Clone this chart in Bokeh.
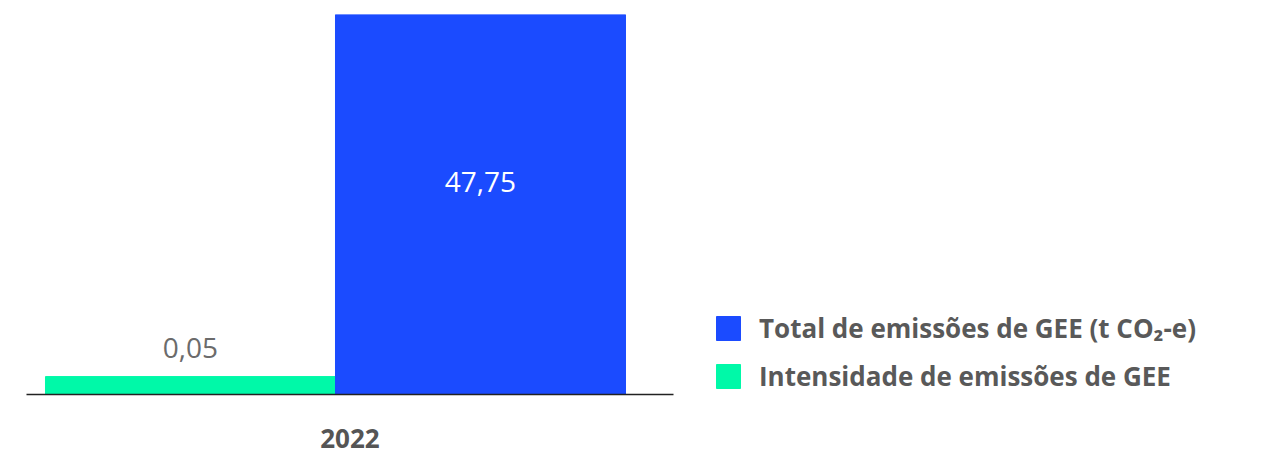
from bokeh.plotting import figure
from bokeh.models import Range1d, LinearAxis, FixedTicker, Legend, LegendItem, ColumnDataSource
from bokeh.core.properties import value
from bokeh.embed import file_html
from bokeh.resources import INLINE

# data
categories = ["2022"]
series_names = ["Intensidade de emissões de GEE", "Total de emissões de GEE (t CO₂-e)"]
intensity = [0.05]
total = [47.75]
colors = ["#00F9A8", "#1B4BFF"]

FONT = "Open Sans"

X0, X1 = -1.0655, 3.1966   # frame spans whole width; axis bounded to the bar area
p = figure(width=1262, height=454, output_backend="svg", toolbar_location=None,
           x_range=Range1d(X0, X1), y_range=Range1d(0, 47.75),
           min_border_left=26, min_border_right=0, min_border_top=14, min_border_bottom=60,
           x_axis_location=None, y_axis_location=None)
p.outline_line_color = None
p.grid.visible = False
p.background_fill_color = "white"
p.border_fill_color = "white"
p.extra_y_ranges = {"int": Range1d(0, 1.06)}

src_i = ColumnDataSource(dict(x=[-0.5], top=intensity,
                              lab=[f"{v:.2f}".replace(".", ",") for v in intensity]))
src_t = ColumnDataSource(dict(x=[0.5], top=total,
                              lab=[f"{v:.2f}".replace(".", ",") for v in total],
                              ly=[v * 0.56 for v in total]))

r_i = p.vbar(x="x", top="top", width=1, source=src_i, color=colors[0], y_range_name="int")
r_t = p.vbar(x="x", top="top", width=1, source=src_t, color=colors[1])

p.text(x="x", y="top", text="lab", source=src_i, y_range_name="int",
       text_align="center", text_baseline="bottom", y_offset=-19,
       text_font=value(FONT), text_font_size="28px", text_color="#6b6b6b")
p.text(x="x", y="ly", text="lab", source=src_t,
       text_align="center", text_baseline="middle",
       text_font=value(FONT), text_font_size="28px", text_color="white")

xa = LinearAxis(ticker=FixedTicker(ticks=[0.05]),
                major_label_overrides={0.05: categories[0]},
                bounds=(X0, 1.1655))
xa.axis_line_color = "#222222"
xa.axis_line_width = 1.5
xa.major_tick_line_color = None
xa.minor_tick_line_color = None
xa.major_label_standoff = 28
xa.major_label_text_font = FONT
xa.major_label_text_font_style = "bold"
xa.major_label_text_font_size = "26px"
xa.major_label_text_color = "#555555"
p.add_layout(xa, "below")

legend = Legend(items=[LegendItem(label=series_names[1], renderers=[r_t]),
                       LegendItem(label=series_names[0], renderers=[r_i])],
                location=(687, 0), orientation="vertical")
legend.glyph_width = 30
legend.glyph_height = 30
legend.label_standoff = 16
legend.spacing = 12
legend.padding = 0
legend.margin = 0
legend.border_line_color = None
legend.background_fill_alpha = 0
legend.label_text_font = FONT
legend.label_text_font_style = "bold"
legend.label_text_font_size = "26px"
legend.label_text_color = "#595959"
legend.label_height = 30
p.add_layout(legend, "center")

open("out.html", "w").write(file_html(p, INLINE))
